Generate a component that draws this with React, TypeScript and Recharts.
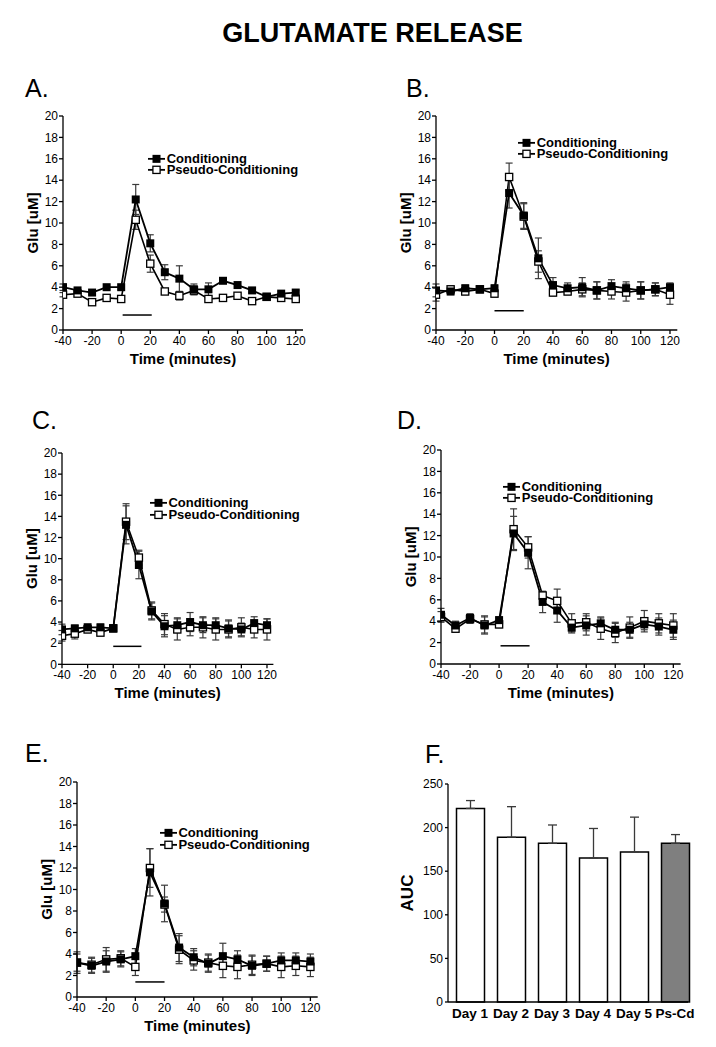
import React from 'react';
import { ComposedChart, Line, XAxis, YAxis, ErrorBar, ReferenceLine, Legend, BarChart, Bar, Cell } from 'recharts';

const FONT = '"Liberation Sans", Arial, sans-serif';

// sampling times (minutes) shared by panels A-E
const times = [-40, -30, -20, -10, 0, 10, 20, 30, 40, 50, 60, 70, 80, 90, 100, 110, 120];
const timeTicks = [-40, -20, 0, 20, 40, 60, 80, 100, 120];
const gluTicks = [0, 2, 4, 6, 8, 10, 12, 14, 16, 18, 20];

const condA = [4.0, 3.7, 3.5, 4.0, 4.0, 12.2, 8.1, 5.4, 4.8, 3.8, 3.8, 4.6, 4.2, 3.7, 3.1, 3.4, 3.5];
const condAErr = [0.3, 0.2, 0.2, 0.2, 0.2, 1.4, 0.8, 0.7, 1.2, 0.5, 0.6, 0.2, 0.2, 0.2, 0.2, 0.2, 0.2];
const pseudoA = [3.3, 3.4, 2.6, 3.0, 2.9, 10.3, 6.2, 3.6, 3.2, 3.7, 2.9, 3.0, 3.2, 2.7, 3.1, 3.0, 2.9];
const pseudoAErr = [0.2, 0.2, 0.3, 0.2, 0.2, 0.9, 0.8, 0.2, 0.4, 0.4, 0.2, 0.2, 0.2, 0.2, 0.2, 0.2, 0.2];

const condB = [3.7, 3.6, 3.9, 3.8, 3.9, 12.8, 10.7, 6.7, 4.2, 3.9, 4.0, 3.7, 4.1, 3.9, 3.7, 3.8, 4.0];
const condBErr = [0.6, 0.3, 0.3, 0.3, 0.3, 1.4, 1.2, 1.9, 0.7, 0.5, 0.9, 0.8, 0.6, 0.6, 0.8, 0.6, 0.4];
const pseudoB = [3.3, 3.8, 3.6, 3.8, 3.4, 14.3, 10.6, 6.4, 3.5, 3.6, 3.8, 3.7, 3.6, 3.5, 3.7, 3.8, 3.3];
const pseudoBErr = [0.6, 0.3, 0.3, 0.3, 0.3, 1.3, 1.2, 1.0, 0.3, 0.3, 0.6, 0.8, 0.7, 0.8, 0.8, 0.6, 0.9];

const condC = [3.3, 3.4, 3.5, 3.5, 3.4, 13.2, 9.4, 5.0, 3.6, 3.7, 4.0, 3.7, 3.7, 3.4, 3.3, 3.9, 3.7];
const condCErr = [0.5, 0.3, 0.3, 0.3, 0.3, 1.8, 1.3, 0.8, 1.0, 0.7, 0.9, 0.7, 0.7, 0.8, 0.6, 0.6, 0.6];
const pseudoC = [2.7, 2.9, 3.3, 3.0, 3.4, 13.5, 10.1, 5.1, 3.8, 3.3, 3.5, 3.5, 3.3, 3.3, 3.5, 3.3, 3.3];
const pseudoCErr = [0.5, 0.5, 0.3, 0.3, 0.3, 1.7, 0.7, 0.8, 1.0, 1.0, 0.8, 1.0, 1.0, 0.8, 0.9, 0.8, 1.0];

const condD = [4.6, 3.6, 4.3, 3.6, 4.1, 12.2, 10.4, 5.8, 5.0, 3.4, 3.6, 3.8, 3.2, 3.2, 3.7, 3.5, 3.2];
const condDErr = [0.6, 0.4, 0.4, 0.8, 0.3, 1.6, 1.5, 1.0, 1.1, 0.4, 0.9, 0.6, 0.7, 0.7, 0.5, 0.8, 0.9];
const pseudoD = [4.4, 3.3, 4.2, 3.7, 3.7, 12.6, 10.9, 6.4, 5.9, 3.8, 3.9, 3.3, 2.9, 3.4, 4.0, 3.8, 3.6];
const pseudoDErr = [0.5, 0.3, 0.4, 0.8, 0.3, 1.9, 1.0, 0.3, 1.1, 0.9, 0.8, 1.0, 0.9, 1.0, 1.0, 0.9, 1.1];

const condE = [3.2, 2.9, 3.3, 3.5, 3.8, 11.6, 8.7, 4.6, 3.7, 3.1, 3.8, 3.5, 2.9, 3.1, 3.4, 3.4, 3.3];
const condEErr = [0.8, 0.7, 1.0, 0.7, 0.7, 2.2, 1.7, 1.3, 0.8, 0.8, 1.2, 0.8, 0.9, 0.7, 0.7, 0.7, 0.7];
const pseudoE = [3.2, 3.0, 3.5, 3.6, 2.8, 12.0, 8.6, 4.4, 3.4, 3.2, 2.9, 2.8, 3.0, 3.1, 2.8, 2.9, 2.8];
const pseudoEErr = [1.0, 0.7, 1.1, 0.7, 0.8, 1.8, 0.7, 1.3, 0.9, 0.8, 1.1, 1.1, 0.9, 0.7, 1.0, 0.9, 0.9];

// stimulus bar: [start, end, level]
const stimA = [1, 21, 1.4];
const stimB = [0, 20, 1.8];
const stimC = [0, 22, 1.7];
const stimD = [1, 21, 1.7];
const stimE = [0, 20, 1.4];

// panel F
const aucDays = ['Day 1', 'Day 2', 'Day 3', 'Day 4', 'Day 5', 'Ps-Cd'];
const aucMean = [222, 189, 182, 165, 172, 182];
const aucSem = [9, 35, 21, 34, 40, 10];
const aucTicks = [0, 50, 100, 150, 200, 250];

const buildRows = (cond: number[], condErr: number[], pseudo: number[], pseudoErr: number[]) =>
  times.map((t, i) => ({ time: t, cond: cond[i], condErr: condErr[i], pseudo: pseudo[i], pseudoErr: pseudoErr[i] }));

const aucRows = aucDays.map((d, i) => ({ day: d, auc: aucMean[i], aucErr: [0, aucSem[i]] }));

const tickStyle = { fill: '#000', fontSize: 12, fontFamily: FONT };
const titleStyle = { fill: '#000', fontSize: 15, fontWeight: 700, fontFamily: FONT };

const filledSquare = (p: any) => (
  <rect key={`c${p.index}`} x={p.cx - 4} y={p.cy - 4} width={8} height={8} fill="#000" />
);
const openSquare = (p: any) => (
  <rect key={`p${p.index}`} x={p.cx - 3.6} y={p.cy - 3.6} width={7.2} height={7.2} fill="#fff" stroke="#000" strokeWidth={1.3} />
);

const legendOrder = ['Conditioning', 'Pseudo-Conditioning'];

const LegendBox = ({ payload }: any) => {
  const items = [...(payload || [])].sort((a, b) => legendOrder.indexOf(a.value) - legendOrder.indexOf(b.value));
  return (
    <div style={{ fontFamily: FONT, fontSize: 13, fontWeight: 700, color: '#000' }}>
      {items.map((it: any) => (
        <div key={it.value} style={{ display: 'flex', alignItems: 'center', height: 11.7, lineHeight: '11.7px', whiteSpace: 'nowrap' }}>
          <svg width={18.4} height={11.7} style={{ display: 'block' }}>
            <line x1={0} x2={17} y1={5.85} y2={5.85} stroke="#000" strokeWidth={1.8} />
            {it.value === 'Conditioning' ? (
              <rect x={4.5} y={1.85} width={8} height={8} fill="#000" />
            ) : (
              <rect x={4.9} y={2.25} width={7.2} height={7.2} fill="#fff" stroke="#000" strokeWidth={1.3} />
            )}
          </svg>
          <span>{it.value}</span>
        </div>
      ))}
    </div>
  );
};

interface PanelProps {
  rows: any[];
  stim: number[];
  left: number;
  top: number;
  width: number;
  height: number;
  legendLeft: number;
  legendTop: number;
}

const GluPanel = ({ rows, stim, left, top, width, height, legendLeft, legendTop }: PanelProps) => (
  <div style={{ position: 'absolute', left, top }}>
    <ComposedChart width={width} height={height} data={rows} margin={{ top: 10, right: 10, bottom: 4, left: 0 }}>
      <XAxis
        dataKey="time"
        type="number"
        domain={[-40, 125]}
        ticks={timeTicks}
        interval={0}
        allowDataOverflow
        tick={tickStyle}
        tickSize={4}
        tickMargin={2}
        stroke="#000"
        strokeWidth={1.3}
        height={34}
        label={{ value: 'Time (minutes)', position: 'insideBottom', offset: 0, style: titleStyle }}
      />
      <YAxis
        type="number"
        domain={[0, 20]}
        ticks={gluTicks}
        interval={0}
        allowDataOverflow
        width={50}
        tick={tickStyle}
        tickSize={4}
        tickMargin={1}
        stroke="#000"
        strokeWidth={1.3}
        label={{ value: 'Glu [uM]', angle: -90, position: 'insideLeft', offset: 19.5, style: { ...titleStyle, textAnchor: 'middle' } }}
      />
      <ReferenceLine
        segment={[{ x: stim[0], y: stim[2] }, { x: stim[1], y: stim[2] }]}
        stroke="#000"
        strokeWidth={1.5}
      />
      <Line
        dataKey="pseudo"
        name="Pseudo-Conditioning"
        type="linear"
        stroke="#000"
        strokeWidth={1.6}
        dot={openSquare}
        activeDot={false}
        isAnimationActive={false}
      >
        <ErrorBar dataKey="pseudoErr" direction="y" width={3.5} stroke="#3a3a3a" strokeWidth={1.2} />
      </Line>
      <Line
        dataKey="cond"
        name="Conditioning"
        type="linear"
        stroke="#000"
        strokeWidth={1.8}
        dot={filledSquare}
        activeDot={false}
        isAnimationActive={false}
      >
        <ErrorBar dataKey="condErr" direction="y" width={3.5} stroke="#3a3a3a" strokeWidth={1.2} />
      </Line>
      <Legend
        layout="vertical"
        align="center"
        verticalAlign="middle"
        content={<LegendBox />}
        wrapperStyle={{ left: legendLeft, top: legendTop, width: 'auto' }}
      />
    </ComposedChart>
  </div>
);

const AucPanel = () => (
  <div style={{ position: 'absolute', left: 394.3, top: 774 }}>
    <BarChart width={304} height={263} data={aucRows} margin={{ top: 10, right: 10, bottom: 5, left: 0 }} barSize={28}>
      <XAxis
        dataKey="day"
        interval={0}
        tick={{ fill: '#000', fontSize: 13.5, fontWeight: 700, fontFamily: FONT }}
        tickLine={false}
        tickSize={0}
        tickMargin={6}
        stroke="#000"
        strokeWidth={1.3}
        height={30}
        padding={{ left: 1.5, right: -7.5 }}
      />
      <YAxis
        type="number"
        domain={[0, 250]}
        ticks={aucTicks}
        interval={0}
        width={54}
        tick={tickStyle}
        tickSize={3}
        tickMargin={2}
        stroke="#000"
        strokeWidth={1.3}
        label={{ value: 'AUC', angle: -90, position: 'insideLeft', offset: 13.4, style: { fill: '#000', fontSize: 17, fontWeight: 700, fontFamily: FONT, textAnchor: 'middle' } }}
      />
      <Bar dataKey="auc" stroke="#000" strokeWidth={1.5} isAnimationActive={false}>
        {aucRows.map((r) => (
          <Cell key={r.day} fill={r.day === 'Ps-Cd' ? '#7f7f7f' : '#fff'} />
        ))}
        <ErrorBar dataKey="aucErr" direction="y" width={4.5} stroke="#3a3a3a" strokeWidth={1.3} />
      </Bar>
    </BarChart>
  </div>
);

const letterStyle = (left: number, baseline: number): React.CSSProperties => ({
  position: 'absolute',
  left,
  top: baseline - 21.2,
  fontFamily: FONT,
  fontSize: 25,
  lineHeight: '25px',
  color: '#000',
});

export default function App() {
  return (
    <div style={{ position: 'absolute', left: 0, top: 0, width: 716, height: 1047, background: '#fff', overflow: 'hidden' }}>
      <div
        style={{
          position: 'absolute',
          left: 172.5,
          width: 400,
          top: 20,
          textAlign: 'center',
          fontFamily: FONT,
          fontWeight: 700,
          fontSize: 27,
          lineHeight: '27px',
          color: '#000',
        }}
      >
        GLUTAMATE RELEASE
      </div>

      <div style={letterStyle(25, 97)}>A.</div>
      <div style={letterStyle(406, 97)}>B.</div>
      <div style={letterStyle(32, 429)}>C.</div>
      <div style={letterStyle(397, 429)}>D.</div>
      <div style={letterStyle(25, 762)}>E.</div>
      <div style={letterStyle(425, 763)}>F.</div>

      <GluPanel rows={buildRows(condA, condAErr, pseudoA, pseudoAErr)} stim={stimA}
        left={13.3} top={106} width={300} height={262} legendLeft={135} legendTop={46.5} />
      <GluPanel rows={buildRows(condB, condBErr, pseudoB, pseudoBErr)} stim={stimB}
        left={386} top={106} width={301.3} height={262} legendLeft={132.3} legendTop={30.8} />
      <GluPanel rows={buildRows(condC, condCErr, pseudoC, pseudoCErr)} stim={stimC}
        left={12.3} top={442.7} width={271.4} height={259.3} legendLeft={137.7} legendTop={54.2} />
      <GluPanel rows={buildRows(condD, condDErr, pseudoD, pseudoDErr)} stim={stimD}
        left={391} top={440} width={299.6} height={262} legendLeft={112.3} legendTop={40.8} />
      <GluPanel rows={buildRows(condE, condEErr, pseudoE, pseudoEErr)} stim={stimE}
        left={27.3} top={772} width={300.7} height={263} legendLeft={132.7} legendTop={54.9} />

      <AucPanel />
    </div>
  );
}
